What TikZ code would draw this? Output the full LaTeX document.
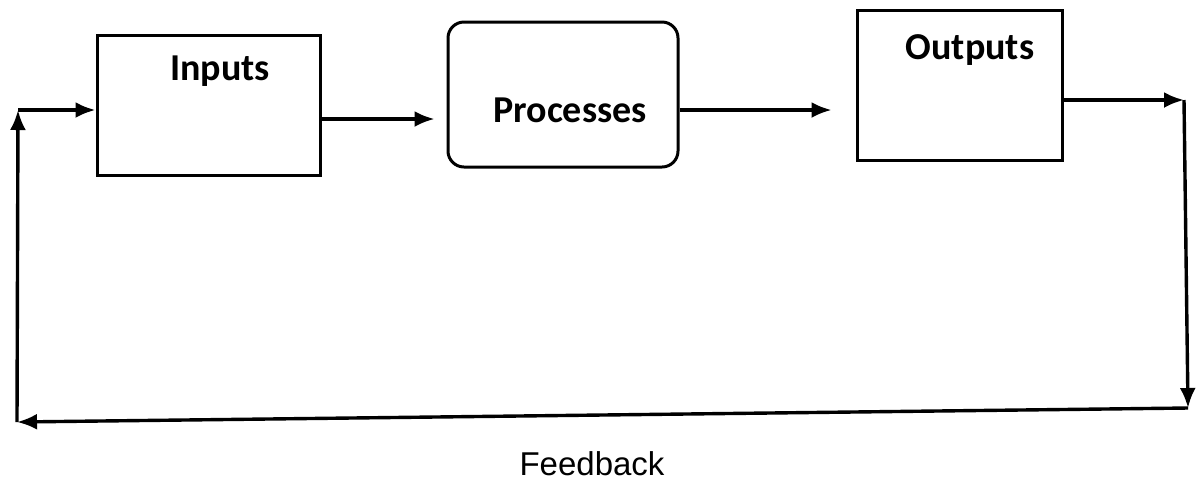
\documentclass[tikz,border=0pt]{standalone}
\usepackage{fontspec}
\setmainfont{Carlito}
\newfontfamily\labelfont{Liberation Sans}
\usetikzlibrary{arrows.meta}

\begin{document}
\begin{tikzpicture}[x=0.5pt,y=-0.5pt,line width=1.5pt,>={Latex[length=10pt,width=8pt]},
  blk/.style={draw,inner sep=0pt},
  blktext/.style={font=\fontsize{19}{21}\selectfont\bfseries},
  loop/.style={->,line width=1.7pt}]
  \useasboundingbox (0,0) rectangle (1199,484);
  % blocks
  \node[blk,minimum width=111.5pt,minimum height=70pt] (inputs) at (208.5,105) {};
  \node[blk,rounded corners=8pt,minimum width=115pt,minimum height=72.5pt] (processes) at (563,94.5) {};
  \node[blk,minimum width=102.5pt,minimum height=75pt] (outputs) at (959.5,85) {};
  \node[blktext] (inputs text) at (220,71) {Inputs};
  \node[blktext] (processes text) at (570,110) {Processes};
  \node[blktext] (outputs text) at (970,50) {Outputs};
  % forward arrows
  \coordinate (f1) at (0,119);
  \coordinate (f2) at (0,110);
  \draw[->,line width=1.6pt,shorten >=6pt] (inputs.east |- f1) -- (processes.west |- f1);
  \draw[->,line width=1.6pt,shorten >=12pt] (processes.east |- f2) -- (outputs.west |- f2);
  % feedback loop
  \coordinate (c1) at (1184,100);
  \coordinate (c2) at (1188,408);
  \coordinate (c3) at (17,422);
  \coordinate (c4) at (18,110);
  \draw[loop] (outputs.east |- c1) -- (c1);
  \draw[loop] (c1) -- (c2);
  \draw[loop] (c2) -- (c3);
  \draw[loop] (c3) -- (c4);
  \draw[loop] (c4) -- (inputs.west |- c4);
  \node[font=\labelfont\fontsize{16.5}{18}\selectfont] (feedback) at (592,464) {Feedback};
\end{tikzpicture}
\end{document}
